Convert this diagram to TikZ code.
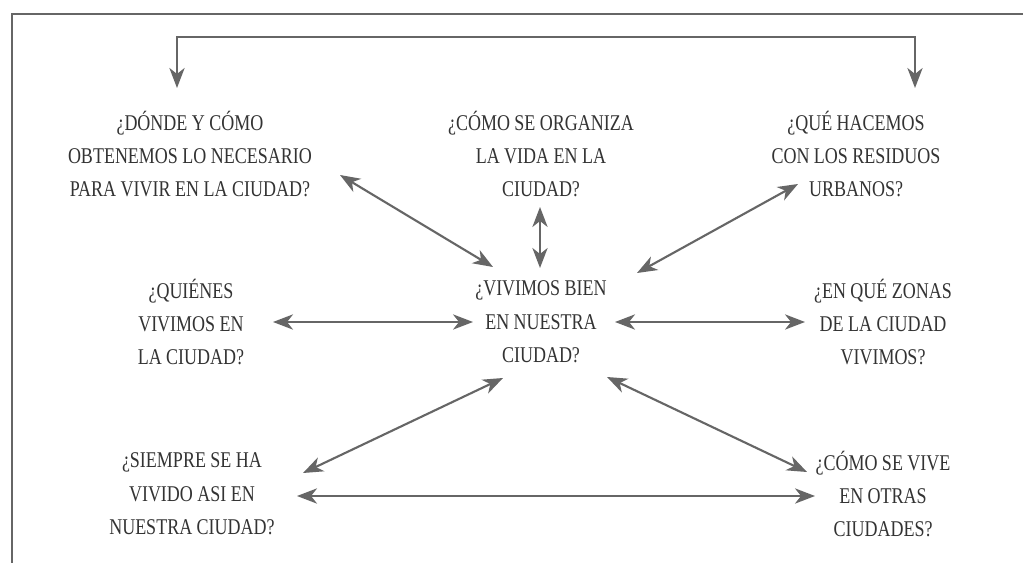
\documentclass[tikz,border=0pt]{standalone}
\usepackage{fontspec}
\setmainfont{Liberation Serif}[FakeStretch=0.8]
\usepackage{xcolor}
\usetikzlibrary{arrows.meta}

\definecolor{tinta}{HTML}{333333}
\definecolor{flecha}{HTML}{666666}

\tikzset{
  pregunta/.style={align=center, text=tinta, inner sep=0pt,
    font=\fontsize{16}{23.8}\selectfont},
  doble/.style={draw=flecha, line width=1.5pt, {Stealth[length=5mm, width=3.8mm, inset=1.5mm]}-{Stealth[length=5mm, width=3.8mm, inset=1.5mm]}},
}

\begin{document}
\begin{tikzpicture}[x=0.025cm, y=-0.025cm]
% page size of the scan
\fill [white] (0,0) rectangle (1023,563);
\useasboundingbox (0,0) rectangle (1023,563);
\draw [flecha, line width=0.9pt] (1023,14) -- (12,14) -- (12,563);

% questions
\node [pregunta] (donde) at (190,154) {¿DÓNDE Y CÓMO\\OBTENEMOS LO NECESARIO\\PARA VIVIR EN LA CIUDAD?};
\node [pregunta] (organiza) at (541,154) {¿CÓMO SE ORGANIZA\\LA VIDA EN LA\\CIUDAD?};
\node [pregunta] (residuos) at (856,154) {¿QUÉ HACEMOS\\CON LOS RESIDUOS\\URBANOS?};
\node [pregunta] (quienes) at (191,322) {¿QUIÉNES\\VIVIMOS EN\\LA CIUDAD?};
\node [pregunta] (vivimos) at (541,322) {¿VIVIMOS BIEN\\EN NUESTRA\\CIUDAD?};
\node [pregunta] (zonas) at (883,322) {¿EN QUÉ ZONAS\\DE LA CIUDAD\\VIVIMOS?};
\node [pregunta] (siempre) at (192,494) {¿SIEMPRE SE HA\\VIVIDO ASI EN\\NUESTRA CIUDAD?};
\node [pregunta] (otras) at (883,494) {¿CÓMO SE VIVE\\EN OTRAS\\CIUDADES?};

% arrow ends
\coordinate (dondeTop) at (177,88);
\coordinate (residuosTop) at (915,88);
\coordinate (dondeE) at (340,175);
\coordinate (vivimosNW) at (493,267);
\coordinate (organizaS) at (540,207);
\coordinate (vivimosN) at (540,268);
\coordinate (residuosW) at (798,184);
\coordinate (vivimosNE) at (637,273);
\coordinate (quienesE) at (273,322);
\coordinate (vivimosW) at (473,322);
\coordinate (vivimosE) at (615,322);
\coordinate (zonasW) at (805,322);
\coordinate (vivimosSW) at (503,378);
\coordinate (siempreNE) at (303,473);
\coordinate (vivimosSE) at (607,377);
\coordinate (otrasNW) at (807,472);
\coordinate (siempreE) at (297,496);
\coordinate (otrasW) at (815,496);

\draw [doble] (dondeTop) -- (dondeTop |- 0,37) -- (residuosTop |- 0,37) -- (residuosTop);
\draw [doble] (dondeE) -- (vivimosNW);
\draw [doble] (organizaS) -- (vivimosN);
\draw [doble] (residuosW) -- (vivimosNE);
\draw [doble] (quienesE) -- (vivimosW);
\draw [doble] (vivimosE) -- (zonasW);
\draw [doble] (vivimosSW) -- (siempreNE);
\draw [doble] (vivimosSE) -- (otrasNW);
\draw [doble] (siempreE) -- (otrasW);
\end{tikzpicture}
\end{document}
